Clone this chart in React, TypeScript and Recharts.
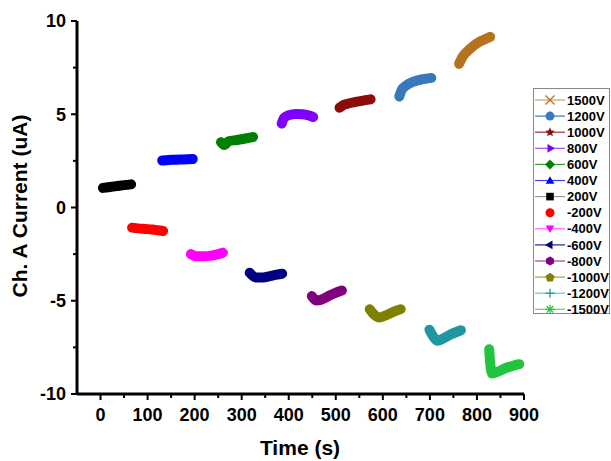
import React from 'react';
import { LineChart, Line, XAxis, YAxis } from 'recharts';

const W = 611;
const H = 461;

// Time (s) / current (uA)
const t200 = [5, 20, 35, 50, 65];
const v200 = [1.05, 1.1, 1.15, 1.2, 1.24];
const tm200 = [67, 80, 95, 110, 122, 133];
const vm200 = [-1.08, -1.12, -1.15, -1.18, -1.22, -1.26];
const t400 = [131, 145, 160, 175, 196];
const v400 = [2.52, 2.55, 2.56, 2.58, 2.6];
const tm400 = [192, 205, 220, 235, 250, 260];
const vm400 = [-2.5, -2.62, -2.62, -2.58, -2.5, -2.42];
const t600 = [256, 263, 272, 290, 308, 324];
const v600 = [3.5, 3.35, 3.55, 3.62, 3.7, 3.78];
const tm600 = [317, 330, 345, 360, 375, 386];
const vm600 = [-3.5, -3.75, -3.75, -3.68, -3.6, -3.55];
const t800 = [385, 390, 400, 415, 430, 445, 452];
const v800 = [4.5, 4.8, 4.95, 5.02, 5.0, 4.92, 4.85];
const tm800 = [449, 458, 468, 482, 497, 513];
const vm800 = [-4.75, -4.98, -4.95, -4.78, -4.6, -4.45];
const t1000 = [508, 515, 525, 540, 555, 574];
const v1000 = [5.35, 5.48, 5.56, 5.65, 5.72, 5.8];
const tm1000 = [572, 582, 592, 605, 620, 638];
const vm1000 = [-5.45, -5.75, -5.9, -5.8, -5.62, -5.45];
const t1200 = [635, 640, 650, 665, 685, 703];
const v1200 = [5.95, 6.3, 6.55, 6.75, 6.88, 6.95];
const tm1200 = [699, 708, 716, 730, 745, 766];
const vm1200 = [-6.55, -6.95, -7.15, -7.0, -6.8, -6.58];
const t1500 = [762, 770, 785, 800, 815, 828];
const v1500 = [7.7, 8.1, 8.5, 8.8, 9.0, 9.15];
const tm1500 = [826, 828, 832, 845, 860, 875, 890];
const vm1500 = [-7.6, -8.3, -8.9, -8.8, -8.62, -8.5, -8.4];

const xTicks = [0, 50, 100, 150, 200, 250, 300, 350, 400, 450, 500, 550, 600, 650, 700, 750, 800, 850, 900];
const yTicks = [-10, -7.5, -5, -2.5, 0, 2.5, 5, 7.5, 10];

const legendNames = ['1500V', '1200V', '1000V', '800V', '600V', '400V', '200V', '-200V', '-400V', '-600V', '-800V', '-1000V', '-1200V', '-1500V'];

const mk = (ts: number[], vs: number[]) => ts.map((t, i) => ({ t, v: vs[i] }));

const series = [
  { name: '1500V', color: '#B5731F', line: '#C89A6A', shape: 'x', data: mk(t1500, v1500) },
  { name: '1200V', color: '#3978BD', line: '#3978BD', shape: 'circle', data: mk(t1200, v1200) },
  { name: '1000V', color: '#8B0A0A', line: '#9A3030', shape: 'star', data: mk(t1000, v1000) },
  { name: '800V', color: '#8000FF', line: '#A050FF', shape: 'tri-right', data: mk(t800, v800) },
  { name: '600V', color: '#008000', line: '#30A030', shape: 'diamond', data: mk(t600, v600) },
  { name: '400V', color: '#0000FF', line: '#4040FF', shape: 'tri-up', data: mk(t400, v400) },
  { name: '200V', color: '#000000', line: '#999999', shape: 'square', data: mk(t200, v200) },
  { name: '-200V', color: '#FF0000', line: 'none', shape: 'circle', data: mk(tm200, vm200) },
  { name: '-400V', color: '#FF00FF', line: '#FF60FF', shape: 'tri-down', data: mk(tm400, vm400) },
  { name: '-600V', color: '#000080', line: '#202090', shape: 'tri-left', data: mk(tm600, vm600) },
  { name: '-800V', color: '#800080', line: '#A040A0', shape: 'hexagon', data: mk(tm800, vm800) },
  { name: '-1000V', color: '#808000', line: '#A0A040', shape: 'pentagon', data: mk(tm1000, vm1000) },
  { name: '-1200V', color: '#1F96A0', line: '#60C8D8', shape: 'plus', data: mk(tm1200, vm1200) },
  { name: '-1500V', color: '#22C43F', line: '#60D078', shape: 'asterisk', data: mk(tm1500, vm1500) },
];

const FONT = '"Liberation Sans", Arial, sans-serif';

const XTick = (props: any) => {
  const { x, y, payload } = props;
  const major = payload.value % 100 === 0;
  return (
    <g>
      <line x1={x} x2={x} y1={y} y2={y + (major ? 6 : 4)} stroke="#000" strokeWidth={2} />
      {major && (
        <text x={x} y={y + 27} textAnchor="middle" fontFamily={FONT} fontWeight="bold" fontSize={18} fill="#000">
          {payload.value}
        </text>
      )}
    </g>
  );
};

const YTick = (props: any) => {
  const { x, y, payload } = props;
  const major = payload.value % 5 === 0;
  return (
    <g>
      <line x1={x} x2={x - (major ? 6 : 4)} y1={y} y2={y} stroke="#000" strokeWidth={2} />
      {major && (
        <text x={x - 11} y={y} dy="0.36em" textAnchor="end" fontFamily={FONT} fontWeight="bold" fontSize={18} fill="#000">
          {payload.value}
        </text>
      )}
    </g>
  );
};

const poly = (n: number, r: number, cx: number, cy: number, rot: number) =>
  Array.from({ length: n }, (_, i) => {
    const a = rot + (i * 2 * Math.PI) / n;
    return `${cx + r * Math.cos(a)},${cy + r * Math.sin(a)}`;
  }).join(' ');

const Symbol = ({ shape, color, cx, cy }: any) => {
  const r = 4.5;
  switch (shape) {
    case 'x':
      return (
        <g stroke={color} strokeWidth={1.3}>
          <line x1={cx - r} y1={cy - r} x2={cx + r} y2={cy + r} />
          <line x1={cx - r} y1={cy + r} x2={cx + r} y2={cy - r} />
        </g>
      );
    case 'circle':
      return <circle cx={cx} cy={cy} r={r} fill={color} />;
    case 'star': {
      const pts = Array.from({ length: 10 }, (_, i) => {
        const a = -Math.PI / 2 + (i * Math.PI) / 5;
        const rr = i % 2 === 0 ? 5 : 2.2;
        return `${cx + rr * Math.cos(a)},${cy + rr * Math.sin(a)}`;
      }).join(' ');
      return <polygon points={pts} fill={color} />;
    }
    case 'tri-right':
      return <polygon points={poly(3, 5, cx, cy, 0)} fill={color} />;
    case 'tri-up':
      return <polygon points={poly(3, 5, cx, cy + 0.8, -Math.PI / 2)} fill={color} />;
    case 'tri-down':
      return <polygon points={poly(3, 5, cx, cy - 0.8, Math.PI / 2)} fill={color} />;
    case 'tri-left':
      return <polygon points={poly(3, 5, cx, cy, Math.PI)} fill={color} />;
    case 'diamond':
      return <polygon points={poly(4, 5, cx, cy, 0)} fill={color} />;
    case 'square':
      return <rect x={cx - 3.8} y={cy - 3.8} width={7.6} height={7.6} fill={color} />;
    case 'hexagon':
      return <polygon points={poly(6, 4.6, cx, cy, Math.PI / 6)} fill={color} />;
    case 'pentagon':
      return <polygon points={poly(5, 4.8, cx, cy + 0.5, -Math.PI / 2)} fill={color} />;
    case 'plus':
      return (
        <g stroke={color} strokeWidth={1.3}>
          <line x1={cx - r} y1={cy} x2={cx + r} y2={cy} />
          <line x1={cx} y1={cy - r} x2={cx} y2={cy + r} />
        </g>
      );
    case 'asterisk':
      return (
        <g stroke={color} strokeWidth={1.2}>
          <line x1={cx - r} y1={cy} x2={cx + r} y2={cy} />
          <line x1={cx} y1={cy - r} x2={cx} y2={cy + r} />
          <line x1={cx - 3.3} y1={cy - 3.3} x2={cx + 3.3} y2={cy + 3.3} />
          <line x1={cx - 3.3} y1={cy + 3.3} x2={cx + 3.3} y2={cy - 3.3} />
        </g>
      );
    default:
      return null;
  }
};

export default function App() {
  return (
    <div style={{ position: 'absolute', left: 0, top: 0, width: W, height: H, background: '#fff' }}>
      <LineChart width={W} height={H} margin={{ top: 21, right: 87, bottom: 37, left: 0 }}>
        <XAxis
          dataKey="t"
          type="number"
          domain={[-50, 900]}
          ticks={xTicks}
          interval={0}
          allowDataOverflow
          height={30}
          tickSize={0}
          tickMargin={0}
          tick={<XTick />}
          axisLine={{ stroke: '#000', strokeWidth: 3 }}
          tickLine={false}
        />
        <YAxis
          dataKey="v"
          type="number"
          domain={[-10, 10]}
          ticks={yTicks}
          interval={0}
          allowDataOverflow
          width={77}
          tickSize={0}
          tickMargin={0}
          tick={<YTick />}
          axisLine={{ stroke: '#000', strokeWidth: 3 }}
          tickLine={false}
        />
        {series.map((s) => (
          <Line
            key={s.name}
            name={s.name}
            data={s.data}
            dataKey="v"
            type="monotone"
            stroke={s.color}
            strokeWidth={10}
            strokeLinecap="round"
            strokeLinejoin="round"
            dot={false}
            activeDot={false}
            isAnimationActive={false}
          />
        ))}
      </LineChart>
      <svg width={W} height={H} style={{ position: 'absolute', left: 0, top: 0, pointerEvents: 'none' }}>
        <text
          transform="translate(19,206) rotate(-90)"
          textAnchor="middle"
          dominantBaseline="central"
          fontFamily={FONT}
          fontWeight="bold"
          fontSize={21}
          fill="#000"
        >
          Ch. A Current (uA)
        </text>
        <text x={300} y={455} textAnchor="middle" fontFamily={FONT} fontWeight="bold" fontSize={21} fill="#000">
          Time (s)
        </text>
        <rect x={533.5} y={88.5} width={76} height={225} fill="#fff" stroke="#888" strokeWidth={1} />
        {legendNames.map((name, i) => {
          const s = series.find((q) => q.name === name)!;
          const cy = 100 + i * 16.1;
          return (
            <g key={name}>
              {s.line !== 'none' && <line x1={535} x2={565} y1={cy} y2={cy} stroke={s.line} strokeWidth={1.2} />}
              <Symbol shape={s.shape} color={s.color} cx={550} cy={cy} />
              <text x={567} y={cy + 4.6} fontFamily={FONT} fontWeight="bold" fontSize={13} fill="#000">
                {name}
              </text>
            </g>
          );
        })}
      </svg>
    </div>
  );
}
